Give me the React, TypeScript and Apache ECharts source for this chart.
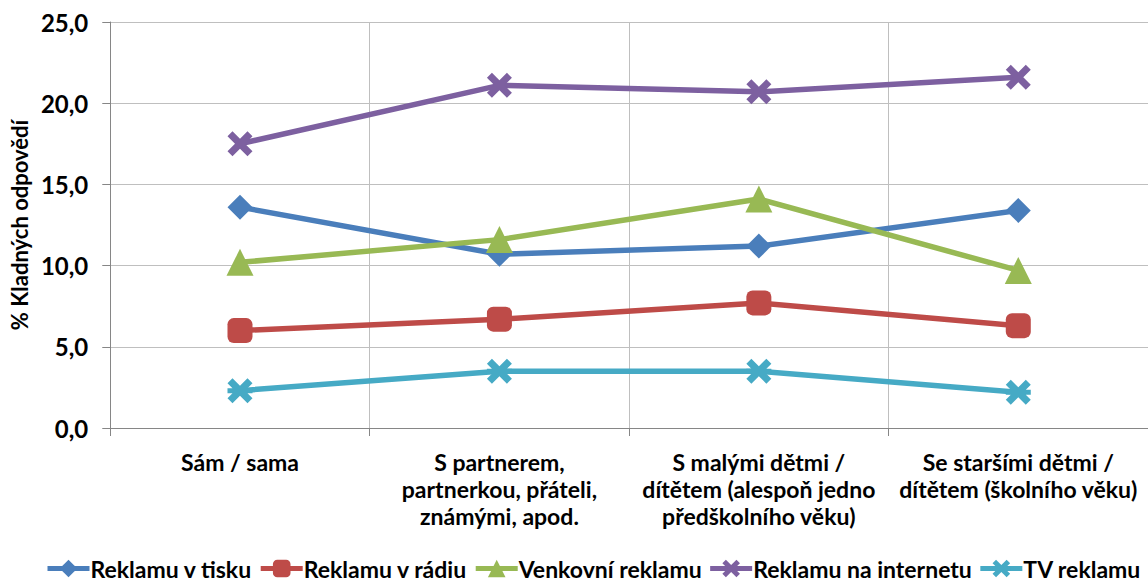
import React, { useEffect, useRef } from "react";
import * as echarts from "echarts";

const categories = [
  "Sám / sama",
  "S partnerem,\npartnerkou, přáteli,\nznámými, apod.",
  "S malými dětmi /\ndítětem (alespoň jedno\npředškolního věku)",
  "Se staršími dětmi /\ndítětem (školního věku)",
];

const seriesNames = [
  "Reklamu v tisku",
  "Reklamu v rádiu",
  "Venkovní reklamu",
  "Reklamu na internetu",
  "TV reklamu",
];

const tisk = [13.6, 10.7, 11.2, 13.4];
const radio = [6.0, 6.7, 7.7, 6.3];
const venkovni = [10.2, 11.6, 14.1, 9.7];
const internet = [17.5, 21.1, 20.7, 21.6];
const tv = [2.3, 3.5, 3.5, 2.2];

const colors = ["#4A7EBB", "#BE4B48", "#98B954", "#7D60A0", "#46AAC5"];

const X_PATH =
  "path://M4,0 L10,6 L16,0 L20,4 L14,10 L20,16 L16,20 L10,14 L4,20 L0,16 L6,10 L0,4 Z";
const STAR_PATH =
  "path://M4,0 L10,6 L16,0 L20,4 L16,8 L20,8 L20,12 L16,12 L20,16 L16,20 L10,14 L4,20 L0,16 L4,12 L0,12 L0,8 L4,8 L0,4 Z";

const symbols = ["diamond", "roundRect", "triangle", X_PATH, STAR_PATH];
const symbolSizes = [25, 25, 27, 25, 25];

const FONT = "Lato";

export default function App() {
  const ref = useRef<HTMLDivElement>(null);

  useEffect(() => {
    if (!ref.current) return;
    const chart = echarts.init(ref.current, undefined, { renderer: "svg" });
    const data = [tisk, radio, venkovni, internet, tv];
    chart.setOption({
      animation: false,
      backgroundColor: "#ffffff",
      color: colors,
      textStyle: { fontFamily: FONT },
      grid: { left: 107, right: -7, top: 22, bottom: 157, containLabel: false },
      legend: {
        bottom: 0,
        left: 40,
        itemGap: 6,
        itemWidth: 42,
        itemHeight: 22,
        lineStyle: { width: 5 },
        textStyle: { fontFamily: FONT, fontWeight: "bold", fontSize: 23, color: "#000", padding: [0, 0, 0, -4] },
        data: seriesNames,
      },
      xAxis: {
        type: "category",
        data: categories,
        boundaryGap: true,
        axisLine: { show: true, lineStyle: { color: "#868686", width: 1 } },
        axisTick: { show: true, length: 8, lineStyle: { color: "#868686" } },
        splitLine: { show: true, lineStyle: { color: "#BFBFBF", width: 1 } },
        axisLabel: {
          interval: 0,
          margin: 20,
          fontFamily: FONT,
          fontWeight: "bold",
          fontSize: 23,
          lineHeight: 27,
          color: "#000",
          align: "center",
        },
      },
      yAxis: {
        type: "value",
        min: 0,
        max: 25,
        interval: 5,
        name: "% Kladných odpovědí",
        nameLocation: "middle",
        nameGap: 76,
        nameRotate: 90,
        nameTextStyle: { fontFamily: FONT, fontWeight: "bold", fontSize: 22, color: "#000" },
        axisLine: { show: true, lineStyle: { color: "#868686", width: 1 } },
        axisTick: { show: true, length: 8, lineStyle: { color: "#868686" } },
        splitLine: { show: true, lineStyle: { color: "#BFBFBF", width: 1 } },
        axisLabel: {
          margin: 22,
          fontFamily: FONT,
          fontWeight: "bold",
          fontSize: 24,
          color: "#000",
          formatter: (v: number) => v.toFixed(1).replace(".", ","),
        },
      },
      series: seriesNames.map((name, i) => ({
        name,
        type: "line",
        data: data[i],
        symbol: symbols[i],
        symbolSize: symbolSizes[i],
        showSymbol: true,
        lineStyle: { width: 5.5, color: colors[i] },
        itemStyle: { color: colors[i], borderWidth: 0 },
        z: 2 + i,
      })),
    });
    return () => chart.dispose();
  }, []);

  return (
    <div
      ref={ref}
      style={{ position: "absolute", left: 0, top: 0, width: 1148, height: 585 }}
    />
  );
}
